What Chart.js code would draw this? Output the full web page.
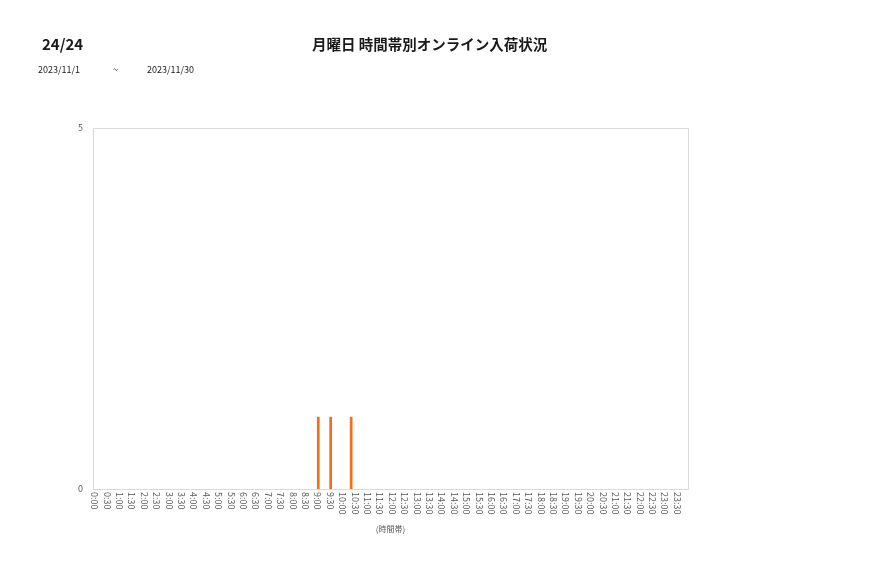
<!DOCTYPE html>
<html>
<head>
<meta charset="utf-8">
<script src="https://cdn.jsdelivr.net/npm/chart.js@4"></script>
<style>
  body { margin: 0; background: #fff; font-family: "Noto Sans CJK JP", sans-serif; }
  #wrap { position: relative; width: 877px; height: 578px; }
  #chart { position: absolute; left: 0; top: 0; }
  .txt { position: absolute; white-space: nowrap; color: #1a1a1a; }
</style>
</head>
<body>
<div id="wrap">
  <canvas id="chart" width="877" height="578"></canvas>
  <div class="txt" style="left:42px;top:33px;font-size:15px;font-weight:bold;">24/24</div>
  <div class="txt" style="left:312px;top:33px;font-size:14.5px;font-weight:bold;">月曜日 時間帯別オンライン入荷状況</div>
  <div class="txt" style="left:38px;top:63px;font-size:9px;">2023/11/1</div>
  <div class="txt" style="left:113px;top:63px;font-size:9px;">~</div>
  <div class="txt" style="left:147px;top:63px;font-size:9px;">2023/11/30</div>
</div>
<script>
const timeLabels = ['0:00','0:30','1:00','1:30','2:00','2:30','3:00','3:30','4:00','4:30','5:00','5:30',
  '6:00','6:30','7:00','7:30','8:00','8:30','9:00','9:30','10:00','10:30','11:00','11:30',
  '12:00','12:30','13:00','13:30','14:00','14:30','15:00','15:30','16:00','16:30','17:00','17:30',
  '18:00','18:30','19:00','19:30','20:00','20:30','21:00','21:30','22:00','22:30','23:00','23:30'];
// one series per Monday in the period
const mondays = ['2023/11/6', '2023/11/13', '2023/11/20', '2023/11/27'];
const mon1 = [0,0,0,0,0,0,0,0,0,0,0,0, 0,0,0,0,0,0,1,1,0,0,0,0, 0,0,0,0,0,0,0,0,0,0,0,0, 0,0,0,0,0,0,0,0,0,0,0,0];
const mon2 = [0,0,0,0,0,0,0,0,0,0,0,0, 0,0,0,0,0,0,0,0,0,0,0,0, 0,0,0,0,0,0,0,0,0,0,0,0, 0,0,0,0,0,0,0,0,0,0,0,0];
const mon3 = [0,0,0,0,0,0,0,0,0,0,0,0, 0,0,0,0,0,0,0,0,0,0,0,0, 0,0,0,0,0,0,0,0,0,0,0,0, 0,0,0,0,0,0,0,0,0,0,0,0];
const mon4 = [0,0,0,0,0,0,0,0,0,0,0,0, 0,0,0,0,0,0,0,0,1,0,0,0, 0,0,0,0,0,0,0,0,0,0,0,0, 0,0,0,0,0,0,0,0,0,0,0,0];
const yTicks = [0, 5];
const xTitle = '(時間帯)';

const frame = {
  id: 'frame',
  afterDraw(chart) {
    const a = chart.chartArea, c = chart.ctx, xs = chart.scales.x;
    c.save();
    c.strokeStyle = '#d9d9d9';
    c.lineWidth = 1;
    c.strokeRect(Math.round(a.left) + 0.5, Math.round(a.top) + 0.5, Math.round(a.right - a.left), Math.round(a.bottom - a.top));
    // vertical tick labels, reading top to bottom
    c.fillStyle = '#595959';
    c.font = '9px "Noto Sans CJK JP", sans-serif';
    c.textAlign = 'left';
    c.textBaseline = 'middle';
    timeLabels.forEach((t, i) => {
      const x = xs.getPixelForValue(i) - 4.5;
      c.save();
      c.translate(x, a.bottom + 3);
      c.rotate(Math.PI / 2);
      c.fillText(t, 0, 0);
      c.restore();
    });
    c.font = '8px "Noto Sans CJK JP", sans-serif';
    c.textAlign = 'center';
    c.fillText(xTitle, (a.left + a.right) / 2, a.bottom + 40);
    c.restore();
  }
};

const series = [mon1, mon2, mon3, mon4];

new Chart(document.getElementById('chart'), {
  type: 'bar',
  data: {
    labels: timeLabels,
    datasets: series.map((d, k) => ({
      label: mondays[k],
      data: d,
      backgroundColor: '#EF6F1C',
      barPercentage: 1,
      categoryPercentage: 0.87
    }))
  },
  options: {
    responsive: false,
    animation: false,
    events: [],
    layout: { padding: { left: 59, right: 189, top: 128, bottom: 39 } },
    plugins: { legend: { display: false }, tooltip: { enabled: false } },
    scales: {
      x: {
        grid: { display: false },
        border: { display: false },
        ticks: { display: false },
        afterFit(s) { s.height = 50; }
      },
      y: {
        min: 0,
        max: 5,
        grid: { display: false },
        border: { display: false },
        afterBuildTicks(s) { s.ticks = yTicks.map(v => ({ value: v })); },
        ticks: { color: '#595959', font: { size: 9, family: '"Noto Sans CJK JP", sans-serif' }, padding: 2 },
        afterFit(s) { s.width = 34; }
      }
    }
  },
  plugins: [frame]
});
</script>
</body>
</html>
